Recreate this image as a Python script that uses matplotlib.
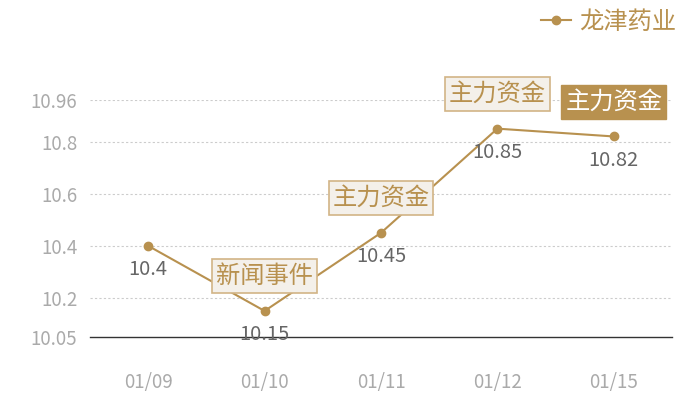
import matplotlib
matplotlib.use("Agg")
import matplotlib.pyplot as plt

plt.rcParams['font.family'] = ['Noto Sans CJK SC', 'DejaVu Sans']

dates = ['01/09', '01/10', '01/11', '01/12', '01/15']
prices = [10.4, 10.15, 10.45, 10.85, 10.82]
series_name = '龙津药业'
y_ticks = [10.05, 10.2, 10.4, 10.6, 10.8, 10.96]
events = ['', '新闻事件', '主力资金', '主力资金', '主力资金']

gold = '#b8914f'
label_gray = '#666666'
tick_gray = '#aaaaaa'

fig = plt.figure(figsize=(7, 4), dpi=100)
ax = fig.add_axes([90 / 700, 63 / 400, 582 / 700, 237 / 400])

x = list(range(len(dates)))
ax.plot(x, prices, color=gold, lw=1.5, marker='o', ms=6, label=series_name, zorder=3)

ax.set_xlim(-0.5, len(dates) - 0.5)
ax.set_ylim(y_ticks[0], y_ticks[-1])
ax.set_xticks(x)
ax.set_xticklabels(dates)
ax.set_yticks(y_ticks)
ax.set_yticklabels([f'{v:g}' for v in y_ticks])
ax.tick_params(axis='x', length=0, pad=25, labelsize=13.5, labelcolor=tick_gray)
ax.tick_params(axis='y', length=0, pad=9, labelsize=13.5, labelcolor=tick_gray)

for s in ['top', 'right', 'left']:
    ax.spines[s].set_visible(False)
ax.spines['bottom'].set_color('#333333')
ax.spines['bottom'].set_linewidth(1)

for v in y_ticks[1:]:
    ax.axhline(v, color='#cccccc', lw=0.8, ls=(0, (2, 2)), zorder=1)

# value labels under the points
for xi, v in zip(x, prices):
    ax.annotate(f'{v:g}', (xi, v), xytext=(0, -17), textcoords='offset points',
                ha='center', va='center', fontsize=14.5, color=label_gray, zorder=4)

# event boxes above the points, the last one highlighted
for i, (xi, v, ev) in enumerate(zip(x, prices, events)):
    if not ev:
        continue
    if i == len(x) - 1:
        style = dict(boxstyle='square,pad=0.16', fc=gold, ec=gold, lw=1)
        col = 'white'
    else:
        style = dict(boxstyle='square,pad=0.16', fc='#f4f0ea', ec='#d2b486', lw=1.2)
        col = gold
    ax.annotate(ev, (xi, v), xytext=(0, 25), textcoords='offset points',
                ha='center', va='center', fontsize=17.5, color=col, bbox=style, zorder=5)

leg = fig.legend(loc='center right', bbox_to_anchor=(0.997, 0.945), frameon=False,
                 fontsize=17.5, handlelength=1.2, handletextpad=0.35,
                 markerscale=1.0)
for t in leg.get_texts():
    t.set_color(gold)

fig.savefig('out.png', dpi=100)
